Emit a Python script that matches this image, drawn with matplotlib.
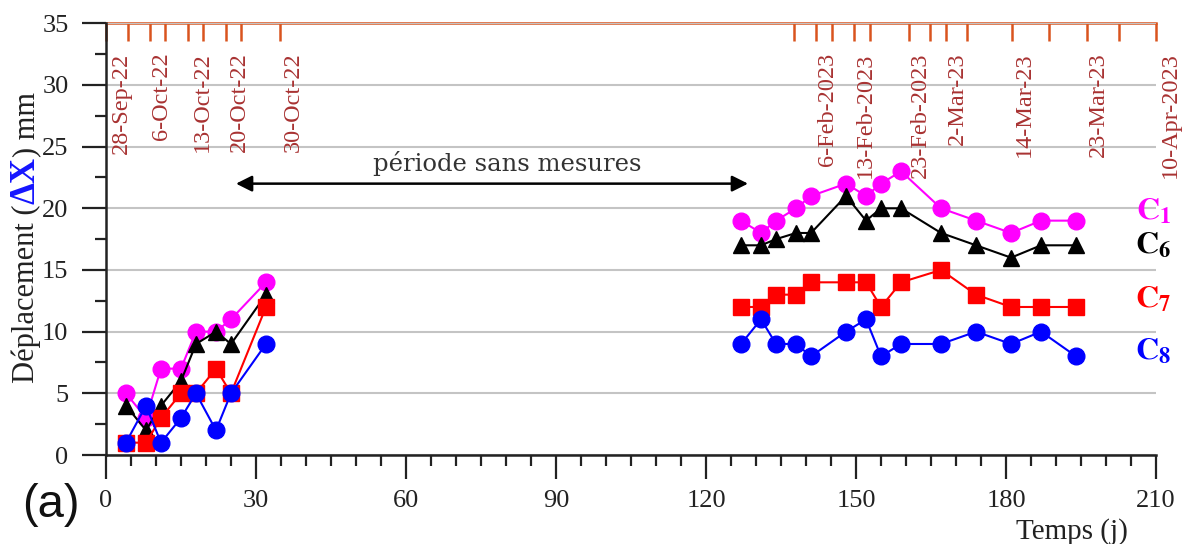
import matplotlib
matplotlib.use("Agg")
import matplotlib.pyplot as plt
from matplotlib.ticker import MultipleLocator

plt.rcParams['font.family'] = ['Liberation Serif', 'DejaVu Serif']
plt.rcParams['mathtext.fontset'] = 'stix'

# days since start of survey
days_a = [4, 8, 11, 15, 18, 22, 25, 32]
days_b = [127, 131, 134, 138, 141, 148, 152, 155, 159, 167, 174, 181, 187, 194]

# displacement (mm) per target, first and second campaign
c1_a = [5, 3, 7, 7, 10, 10, 11, 14]
c6_a = [4, 2, 4, 6, 9, 10, 9, 13]
c7_a = [1, 1, 3, 5, 5, 7, 5, 12]
c8_a = [1, 4, 1, 3, 5, 2, 5, 9]

c1_b = [19, 18, 19, 20, 21, 22, 21, 22, 23, 20, 19, 18, 19, 19]
c6_b = [17, 17, 17.5, 18, 18, 21, 19, 20, 20, 18, 17, 16, 17, 17]
c7_b = [12, 12, 13, 13, 14, 14, 14, 12, 14, 15, 13, 12, 12, 12]
c8_b = [9, 11, 9, 9, 8, 10, 11, 8, 9, 9, 10, 9, 10, 8]

# calendar ticks on top axis
date_ticks = [0, 4.5, 8.8, 11.8, 16.4, 19.5, 24, 27.1, 34.8,
              137.5, 142, 145.1, 149.5, 152.8, 160.5, 164.7, 168, 172.1,
              181.1, 188.5, 196.1, 202.5, 210]
date_labels = ['28-Sep-22', '6-Oct-22', '13-Oct-22', '20-Oct-22', '30-Oct-22',
               '6-Feb-2023', '13-Feb-2023', '23-Feb-2023', '2-Mar-23',
               '14-Mar-23', '23-Mar-23', '10-Apr-2023']
date_label_x = [3.0, 11.2, 19.3, 26.6, 37.4,
                144.2, 151.8, 162.8, 170.2, 183.6, 198.4, 212.8]

orange = '#D9541E'
darkred = '#A83232'

fig = plt.figure(figsize=(11.84, 5.44), dpi=100)
ax = fig.add_axes([0.0895, 0.1636, 0.8869, 0.7936])

series = [
    (c1_a, c1_b, '#FF00FF', 'o', 12, r'$\mathbf{C_1}$', 19.7),
    (c6_a, c6_b, 'black', '^', 11.5, r'$\mathbf{C_6}$', 17.0),
    (c7_a, c7_b, '#FF0000', 's', 11, r'$\mathbf{C_7}$', 12.6),
    (c8_a, c8_b, '#0000FF', 'o', 12, r'$\mathbf{C_8}$', 8.4),
]
for ya, yb, col, mk, ms, name, ylab in series:
    ax.plot(days_a, ya, color=col, marker=mk, ms=ms, lw=1.5, zorder=3)
    ax.plot(days_b, yb, color=col, marker=mk, ms=ms, lw=1.5, zorder=3)
    ax.text(209.5, ylab, name, color=col, fontsize=23, ha='center', va='center',
            clip_on=False)

ax.set_xlim(0, 210)
ax.set_ylim(0, 35)
ax.xaxis.set_major_locator(MultipleLocator(30))
ax.xaxis.set_minor_locator(MultipleLocator(5))
ax.yaxis.set_major_locator(MultipleLocator(5))
ax.yaxis.set_minor_locator(MultipleLocator(2.5))
ax.tick_params(which='major', length=17, width=1.6, direction='out',
               labelsize=19, colors='#222222')
ax.tick_params(axis='x', which='major', pad=8)
ax.tick_params(axis='y', which='major', pad=10)
ax.tick_params(which='minor', length=8, width=1.6, direction='out', colors='#222222')
ax.yaxis.grid(True, color='#c4c4c4', lw=1.5)
ax.set_axisbelow(True)

for s in ['left', 'bottom']:
    ax.spines[s].set_linewidth(1.8)
    ax.spines[s].set_color('#222222')
ax.spines['right'].set_visible(False)
ax.spines['top'].set_visible(False)

# calendar axis along the top
top = ax.secondary_xaxis('top')
top.set_xticks(date_ticks)
top.tick_params(direction='in', length=13, width=1.8, color=orange, labeltop=False)
top.spines['top'].set_color(orange)
top.spines['top'].set_linewidth(1.8)
for x, lab in zip(date_label_x, date_labels):
    ax.text(x, 32.65, lab, rotation=90, ha='center', va='top', fontsize=17.5,
            color=darkred, clip_on=False)

# gap between the two campaigns
ax.annotate('', xy=(26, 22), xytext=(128.4, 22),
            arrowprops=dict(arrowstyle='<|-|>', color='black', lw=1.8,
                            mutation_scale=24, shrinkA=0, shrinkB=0))
ax.text(80.2, 22.6, 'période sans mesures', ha='center', va='bottom',
        fontsize=17.5, family='DejaVu Serif', color='#333333')

ax.text(0.92, -0.178, 'Temps (j)', transform=ax.transAxes, ha='center',
        va='center', fontsize=21, color='#222222')

# y label with the coloured ΔX
renderer = fig.canvas.get_renderer()
x0, y0 = 0.029, 0.296
parts = [('Déplacement (', '#222222', 'normal', 22),
         ('ΔX', '#1515FF', 'bold', 25),
         (') mm', '#222222', 'normal', 22)]
for s, col, w, fs in parts:
    t = fig.text(x0, y0, s, rotation=90, rotation_mode='anchor', ha='left',
                 va='baseline', color=col, fontweight=w, fontsize=fs)
    bb = t.get_window_extent(renderer)
    y0 += bb.height / fig.bbox.height

fig.text(0.043, 0.072, '(a)', fontsize=34, family='Liberation Sans',
         ha='center', va='center', color='#111111')

fig.savefig('out.png', dpi=100)
